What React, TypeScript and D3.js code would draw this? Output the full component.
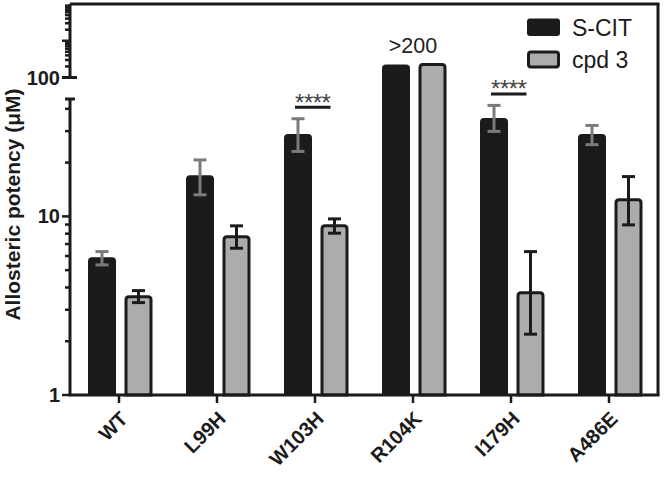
import React from 'react';
import * as d3 from 'd3';

// values (µM)
const mutants = ['WT', 'L99H', 'W103H', 'R104K', 'I179H', 'A486E'];
const seriesNames = ['S-CIT', 'cpd 3'];
const scitMean = [5.9, 17, 28.9, 227, 35.5, 28.9];
const scitLow = [5.35, 13.2, 23.1, null, 29.9, 25.2];
const scitHigh = [6.35, 20.7, 35.2, null, 41.8, 32.3];
const cpdMean = [3.55, 7.7, 8.85, 227, 3.74, 12.4];
const cpdLow = [3.29, 6.63, 8.05, null, 2.19, 8.96];
const cpdHigh = [3.84, 8.85, 9.68, null, 6.35, 16.7];

const lowerTicks = [1, 2, 3, 4, 5, 6, 7, 8, 9, 10, 20, 30, 40];
const lowerLabels = [1, 10];
const upperTicks = [100, 200, 300, 400, 500, 600, 700, 800, 900, 1000, 2000, 3000, 4000, 5000, 6000, 7000, 8000, 9000];
const upperMajor = [100, 1000];
const upperLabels = [100];
const sigMutants = ['W103H', 'I179H'];
const sigText = '****';
const cappedMutant = 'R104K';
const cappedText = '>200';

const W = 669;
const H = 478;
const left = 70;
const right = 658;
const top = 4;
const base = 395;
const LOW_TOP = 45.4;
const lowBreak = 99;
const highBreak = 77.5;

const INK = '#1b1b1b';
const GREY = '#acacac';
const ERR_GREY = '#7b7b7b';
const FONT = '"Liberation Sans", Arial, Helvetica, sans-serif';

const yLow = d3.scaleLog().domain([1, LOW_TOP]).range([base, lowBreak]);
const yGap = d3.scaleLog().domain([LOW_TOP, 100]).range([lowBreak, highBreak]);
const yHigh = d3.scaleLog().domain([100, 10000]).range([highBreak, top]);
const y = (v: number) => (v <= LOW_TOP ? yLow(v) : v < 100 ? yGap(v) : yHigh(v));

const x = d3.scaleBand<string>().domain(mutants).range([left, right]);

function roundedTop(x0: number, x1: number, yt: number, yb: number, r: number) {
  return `M${x0},${yb}V${yt + r}Q${x0},${yt} ${x0 + r},${yt}H${x1 - r}Q${x1},${yt} ${x1},${yt + r}V${yb}Z`;
}

function ErrorBar({ cx, lo, hi, color }: { cx: number; lo: number | null; hi: number | null; color: string }) {
  if (lo == null || hi == null) return null;
  const y0 = y(lo);
  const y1 = y(hi);
  return (
    <g stroke={color} strokeWidth={3} fill="none">
      <line x1={cx} x2={cx} y1={y0} y2={y1} />
      <line x1={cx - 6.5} x2={cx + 6.5} y1={y0} y2={y0} />
      <line x1={cx - 6.5} x2={cx + 6.5} y1={y1} y2={y1} />
    </g>
  );
}

export default function App() {
  const blackX = (c: string) => (x(c) as number) + 18;
  const greyX = (c: string) => (x(c) as number) + 56;
  const blackCx = (c: string) => blackX(c) + 14;
  const greyCx = (c: string) => greyX(c) + 12.5;

  return (
    <svg width={W} height={H} style={{ position: 'absolute', left: 0, top: 0, background: '#fff' }} fontFamily={FONT}>
      {/* bars */}
      {mutants.map((c, i) => (
        <g key={c}>
          <path d={roundedTop(blackX(c), blackX(c) + 28, y(scitMean[i]), base, 4)} fill={INK} />
          <path d={roundedTop(greyX(c), greyX(c) + 25, y(cpdMean[i]), base, 3)} fill={GREY} stroke={INK} strokeWidth={3} />
          <ErrorBar cx={blackCx(c)} lo={scitLow[i]} hi={scitHigh[i]} color={ERR_GREY} />
          <ErrorBar cx={greyCx(c)} lo={cpdLow[i]} hi={cpdHigh[i]} color={INK} />
        </g>
      ))}

      {/* significance */}
      {sigMutants.map((c) => {
        const i = mutants.indexOf(c);
        const ly = y(Math.max(scitHigh[i] as number, cpdHigh[i] as number)) - 11.5;
        const x0 = blackCx(c) - 3;
        const x1 = greyCx(c) - 4;
        return (
          <g key={c}>
            <line x1={x0} x2={x1} y1={ly} y2={ly} stroke={INK} strokeWidth={3} />
            <text x={(x0 + x1) / 2} y={ly + 3.5} textAnchor="middle" fontSize={24} letterSpacing={-0.5} fill="#444">
              {sigText}
            </text>
          </g>
        );
      })}

      <text x={(x(cappedMutant) as number) + 49} y={53} textAnchor="middle" fontSize={21.5} fill="#222">
        {cappedText}
      </text>

      {/* frame */}
      <g stroke={INK} strokeWidth={3} fill="none">
        <line x1={left} x2={right + 1.5} y1={top} y2={top} />
        <line x1={right} x2={right} y1={top} y2={base} />
        <line x1={left - 1.5} x2={right + 1.5} y1={base} y2={base} />
        <line x1={left} x2={left} y1={base} y2={lowBreak} />
        <line x1={left} x2={left} y1={highBreak} y2={top} />
        <line x1={left - 5} x2={left + 5} y1={lowBreak} y2={lowBreak} />
        <line x1={left - 8} x2={left + 7} y1={highBreak} y2={highBreak} />
      </g>

      {/* y ticks */}
      <g stroke={INK} strokeWidth={2.5}>
        {lowerTicks.map((t) => (
          <line key={'l' + t} x1={left - (lowerLabels.includes(t) ? 8 : 5)} x2={left} y1={yLow(t)} y2={yLow(t)} />
        ))}
        {upperTicks.map((t) => (
          <line key={'u' + t} x1={left - (upperMajor.includes(t) ? 8 : 5)} x2={left} y1={yHigh(t)} y2={yHigh(t)} />
        ))}
      </g>
      <g fontSize={20} fontWeight="bold" textAnchor="end" fill={INK}>
        {lowerLabels.map((t) => (
          <text key={t} x={left - 10} y={yLow(t) + 7}>{t}</text>
        ))}
        {upperLabels.map((t) => (
          <text key={t} x={left - 10} y={yHigh(t) + 7}>{t}</text>
        ))}
      </g>
      <text transform="translate(19.5,204.5) rotate(-90)" textAnchor="middle" fontSize={21} fontWeight="bold" fill={INK}>
        Allosteric potency (μM)
      </text>

      {/* x ticks and labels */}
      {mutants.map((c) => {
        const tx = (x(c) as number) + x.bandwidth() / 2;
        return (
          <g key={c}>
            <line x1={tx} x2={tx} y1={base} y2={base + 8} stroke={INK} strokeWidth={2.5} />
            <text transform={`translate(${tx + 10},${base + 25}) rotate(-45)`} textAnchor="end" fontSize={20} fontWeight="bold" fill={INK}>
              {c}
            </text>
          </g>
        );
      })}

      {/* legend */}
      <g>
        <rect x={527} y={18.5} width={33} height={17.5} rx={3} fill={INK} />
        <rect x={528.5} y={52} width={30} height={15} rx={2.5} fill={GREY} stroke={INK} strokeWidth={3} />
        <text x={572} y={35.5} fontSize={23} fill={INK}>{seriesNames[0]}</text>
        <text x={572} y={68} fontSize={23} fill={INK}>{seriesNames[1]}</text>
      </g>
    </svg>
  );
}
